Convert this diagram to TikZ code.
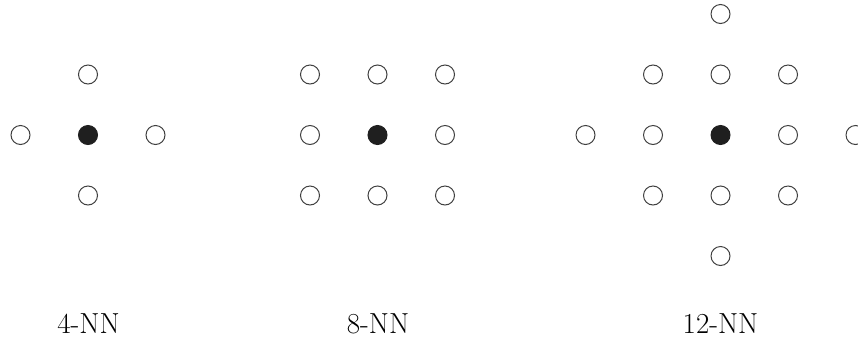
\documentclass[tikz,border=0pt]{standalone}
\usepackage{fontspec}
\begin{document}
\begin{tikzpicture}[x=1pt,y=-1pt,
  site/.style={circle,draw=black!75,line width=1pt,minimum size=19pt,inner sep=0pt,fill=white},
  ctr/.style={circle,fill=black!88,draw=black!88,line width=1pt,minimum size=19pt,inner sep=0pt},
  lbl/.style={anchor=base,inner sep=0pt,font=\fontsize{29pt}{34pt}\selectfont}]
\useasboundingbox (0,0) rectangle (858,341);
\def\dx{67.5}\def\dy{60.5}
% 4-NN
\node[ctr] (c4) at (88,135) {};
\foreach \i/\j [count=\k] in {-1/0,1/0,0/-1,0/1}
  \node[site] (a\k) at (88+\i*\dx,135+\j*\dy) {};
\node[lbl] (l4) at (88.5,333.5) {4-NN};
% 8-NN
\node[ctr] (c8) at (377.5,135) {};
\foreach \i/\j [count=\k] in {-1/-1,0/-1,1/-1,-1/0,1/0,-1/1,0/1,1/1}
  \node[site] (b\k) at (377.5+\i*\dx,135+\j*\dy) {};
\node[lbl] (l8) at (378,333.5) {8-NN};
% 12-NN
\node[ctr] (c12) at (720.5,135) {};
\foreach \i/\j [count=\k] in {0/-2,-1/-1,0/-1,1/-1,-2/0,-1/0,1/0,2/0,-1/1,0/1,1/1,0/2}
  \node[site] (d\k) at (720.5+\i*\dx,135+\j*\dy) {};
\node[lbl] (l12) at (720.5,333.5) {12-NN};
\end{tikzpicture}
\end{document}
